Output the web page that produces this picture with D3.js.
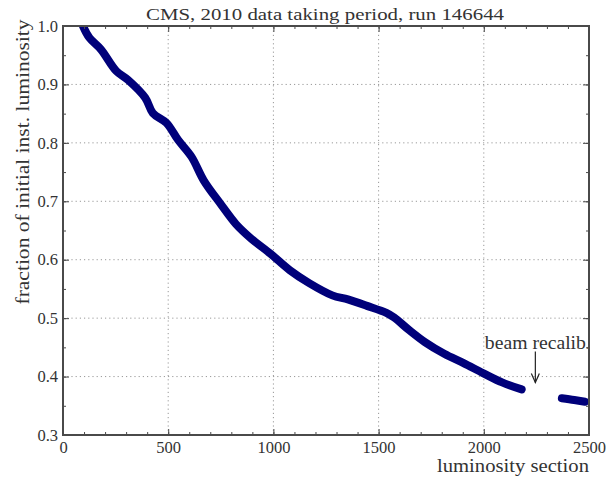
<!DOCTYPE html>
<html><head><meta charset="utf-8">
<script src="https://cdn.jsdelivr.net/npm/d3@7"></script>
<style>
html,body{margin:0;padding:0;background:#fff;}
svg text{font-family:"Liberation Serif","DejaVu Serif",serif;fill:#333;}
</style></head>
<body>
<svg id="chart" width="606" height="478"></svg>
<script>
// lumi section (x) and fraction of initial inst. luminosity (y), first segment
const seg1X = [95,125,180,253,308,391,427,492,547,611,670,748,822,895,987,1078,1170,1280,1354,1445,1537,1574,1647,1720,1812,1904,1996,2087,2180];
const seg1Y = [1.0,0.980,0.960,0.923,0.908,0.877,0.851,0.834,0.805,0.776,0.735,0.696,0.661,0.636,0.610,0.582,0.560,0.539,0.532,0.521,0.509,0.501,0.479,0.459,0.439,0.423,0.406,0.390,0.378];
// second segment after beam recalibration
const seg2X = [2371,2430,2481];
const seg2Y = [0.363,0.360,0.357];

const xTicks = [0,500,1000,1500,2000,2500];
const xTickLabels = ["0","500","1000","1500","2000","2500"];
const yTicks = [0.3,0.4,0.5,0.6,0.7,0.8,0.9,1.0];
const yTickLabels = ["0.3","0.4","0.5","0.6","0.7","0.8","0.9","1.0"];
const xMinor = d3.range(0,2501,100);
const yMinor = d3.range(0.3,1.0001,0.05);

const title = "CMS, 2010 data taking period, run 146644";
const xLabel = "luminosity section";
const yLabel = "fraction of initial inst. luminosity";
const annText = "beam recalib.";
const annTextPos = [2005, 0.455];
const annArrow = [2245, 0.443, 0.390];

const W = 606, H = 478;
const m = {left:63, right:17, top:26, bottom:43};
const svg = d3.select("#chart");
const x = d3.scaleLinear().domain([0,2500]).range([m.left, W-m.right]);
const y = d3.scaleLinear().domain([0.3,1.0]).range([H-m.bottom, m.top]);

const frameCol = "#4a4a4a";
const clipId = "plotclip";
svg.append("defs").append("clipPath").attr("id",clipId)
  .append("rect").attr("x",m.left).attr("y",m.top)
  .attr("width",x(2500)-m.left).attr("height",y(0.3)-m.top);

// grid
const grid = svg.append("g");
grid.selectAll("line.gx").data(xTicks.slice(1,-1)).join("line")
  .attr("x1",d=>x(d)).attr("x2",d=>x(d)).attr("y1",y(0.3)).attr("y2",y(1.0))
  .attr("stroke","#999").attr("stroke-width",1).attr("stroke-dasharray","1.2,3");
grid.selectAll("line.gy").data(yTicks.slice(1,-1)).join("line")
  .attr("y1",d=>y(d)).attr("y2",d=>y(d)).attr("x1",x(0)).attr("x2",x(2500))
  .attr("stroke","#999").attr("stroke-width",1).attr("stroke-dasharray","1.2,3");

// data
const line = d3.line().x(d=>x(d[0])).y(d=>y(d[1])).curve(d3.curveCatmullRom);
const g = svg.append("g").attr("clip-path",`url(#${clipId})`);
[[seg1X,seg1Y],[seg2X,seg2Y]].forEach(([xs,ys])=>{
  g.append("path").datum(xs.map((v,i)=>[v,ys[i]]))
   .attr("d",line).attr("fill","none").attr("stroke","#00007a")
   .attr("stroke-width",8).attr("stroke-linecap","round").attr("stroke-linejoin","round");
});

// annotation
svg.append("text").attr("x",x(annTextPos[0])).attr("y",y(annTextPos[1]))
  .attr("font-size",18).attr("dominant-baseline","middle").attr("fill","#444")
  .attr("textLength",106).attr("lengthAdjust","spacingAndGlyphs")
  .attr("clip-path",`url(#${clipId})`).text(annText);
const ax = x(annArrow[0]), ay1 = y(annArrow[1]), ay2 = y(annArrow[2]);
svg.append("line").attr("x1",ax).attr("x2",ax).attr("y1",ay1).attr("y2",ay2)
  .attr("stroke","#222").attr("stroke-width",1.2);
svg.append("path").attr("d",`M${ax-4},${ay2-9}L${ax},${ay2}L${ax+4},${ay2-9}`)
  .attr("fill","none").attr("stroke","#222").attr("stroke-width",1.2);

// axes (ticks inward on all sides)
function tickAxis(axisGen, transform){
  const a = svg.append("g").attr("transform",transform).call(axisGen);
  a.select(".domain").remove();
  a.selectAll(".tick line").attr("stroke",frameCol).attr("stroke-width",1);
  return a;
}
const bottomMajor = d3.axisBottom(x).tickValues(xTicks).tickSize(-6).tickPadding(6)
  .tickFormat((d,i)=>xTickLabels[i]);
const ab = tickAxis(bottomMajor, `translate(0,${y(0.3)})`);
ab.selectAll("text").attr("font-size",16.5).attr("fill","#333").attr("dy","0.71em");
tickAxis(d3.axisBottom(x).tickValues(xMinor).tickSize(-3).tickFormat(""), `translate(0,${y(0.3)})`);
tickAxis(d3.axisTop(x).tickValues(xTicks).tickSize(-6).tickFormat(""), `translate(0,${y(1.0)})`);
tickAxis(d3.axisTop(x).tickValues(xMinor).tickSize(-3).tickFormat(""), `translate(0,${y(1.0)})`);

const leftMajor = d3.axisLeft(y).tickValues(yTicks).tickSize(-6).tickPadding(5)
  .tickFormat((d,i)=>yTickLabels[i]);
const al = tickAxis(leftMajor, `translate(${x(0)},0)`);
al.selectAll("text").attr("font-size",16.5).attr("fill","#333");
tickAxis(d3.axisLeft(y).tickValues(yMinor).tickSize(-3).tickFormat(""), `translate(${x(0)},0)`);
tickAxis(d3.axisRight(y).tickValues(yTicks).tickSize(-6).tickFormat(""), `translate(${x(2500)},0)`);
tickAxis(d3.axisRight(y).tickValues(yMinor).tickSize(-3).tickFormat(""), `translate(${x(2500)},0)`);
svg.selectAll(".tick text").attr("font-family","Liberation Serif, DejaVu Serif, serif");

// frame
svg.append("rect").attr("x",x(0)).attr("y",y(1.0)).attr("width",x(2500)-x(0)).attr("height",y(0.3)-y(1.0))
  .attr("fill","none").attr("stroke",frameCol).attr("stroke-width",2);

// labels
svg.append("text").attr("x",325).attr("y",20).attr("text-anchor","middle")
  .attr("font-size",17.5).attr("textLength",358).attr("lengthAdjust","spacingAndGlyphs").text(title);
svg.append("text").attr("x",x(2500)).attr("y",472).attr("text-anchor","end")
  .attr("font-size",18).attr("textLength",152).attr("lengthAdjust","spacingAndGlyphs").text(xLabel);
svg.append("text").attr("transform",`translate(29,162) rotate(-90)`)
  .attr("text-anchor","middle").attr("font-size",18)
  .attr("textLength",285).attr("lengthAdjust","spacingAndGlyphs").text(yLabel);
</script>
</body></html>
